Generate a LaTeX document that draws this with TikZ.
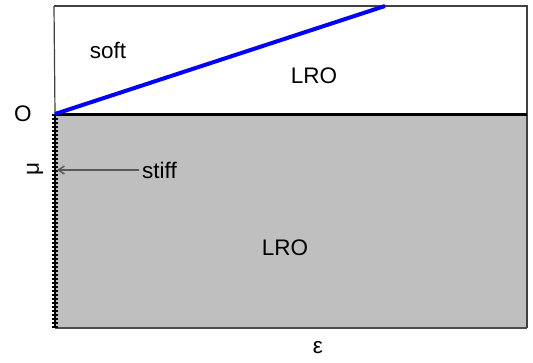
\documentclass[tikz,border=0pt]{standalone}
\usepackage{fontspec}
\setmainfont{Liberation Sans}
\usetikzlibrary{arrows.meta}
\begin{document}
\begin{tikzpicture}[x=1pt,y=-1pt,
  lbl/.style={font=\fontsize{22.5}{26}\selectfont, inner sep=0pt},
  frameline/.style={draw=black!75, line width=1.2pt}]
\useasboundingbox (0,0) rectangle (533,362);
\coordinate (tl) at (54,6);
\coordinate (tr) at (527,6);
\coordinate (ml) at (55,114);
\coordinate (mr) at (527,114);
\coordinate (bl) at (55,328);
\coordinate (br) at (527,328);
\coordinate (bend) at (385,6);
\coordinate (tip) at (57,170);
% gray region
\fill[black!25] (ml) rectangle (br);
% frame
\draw[frameline] (tl) -- (tr) -- (br);
\draw[draw=black!70, line width=2pt] (bl) -- (br);
\draw[frameline] (tl) -- (ml);
% ladder
\draw[line width=6pt, dash pattern=on 2pt off 2pt] (ml) -- (bl);
\draw[line width=1.5pt] (ml) -- (bl);
% middle line
\draw[line width=3pt] (ml) -- (mr);
% blue line
\draw[blue, line width=4pt] (ml) -- (bend);
% labels
\node[lbl] (soft) at (108,50) {soft};
\node[lbl] (lro1) at (314,76) {LRO};
\node[lbl] (lro2) at (285,248) {LRO};
\node[lbl] (O) at (23,114) {O};
\node[lbl, anchor=west] (stiff) at (142,170) {stiff};
\node[lbl, rotate=90] (mu) at (35,169) {μ};
\node[lbl] (eps) at (318,348) {ε};
\draw[black!65, line width=1.5pt, -{Straight Barb[length=6pt,width=8pt]}] (stiff.west) ++(-3,0) -- (tip);
\end{tikzpicture}
\end{document}
